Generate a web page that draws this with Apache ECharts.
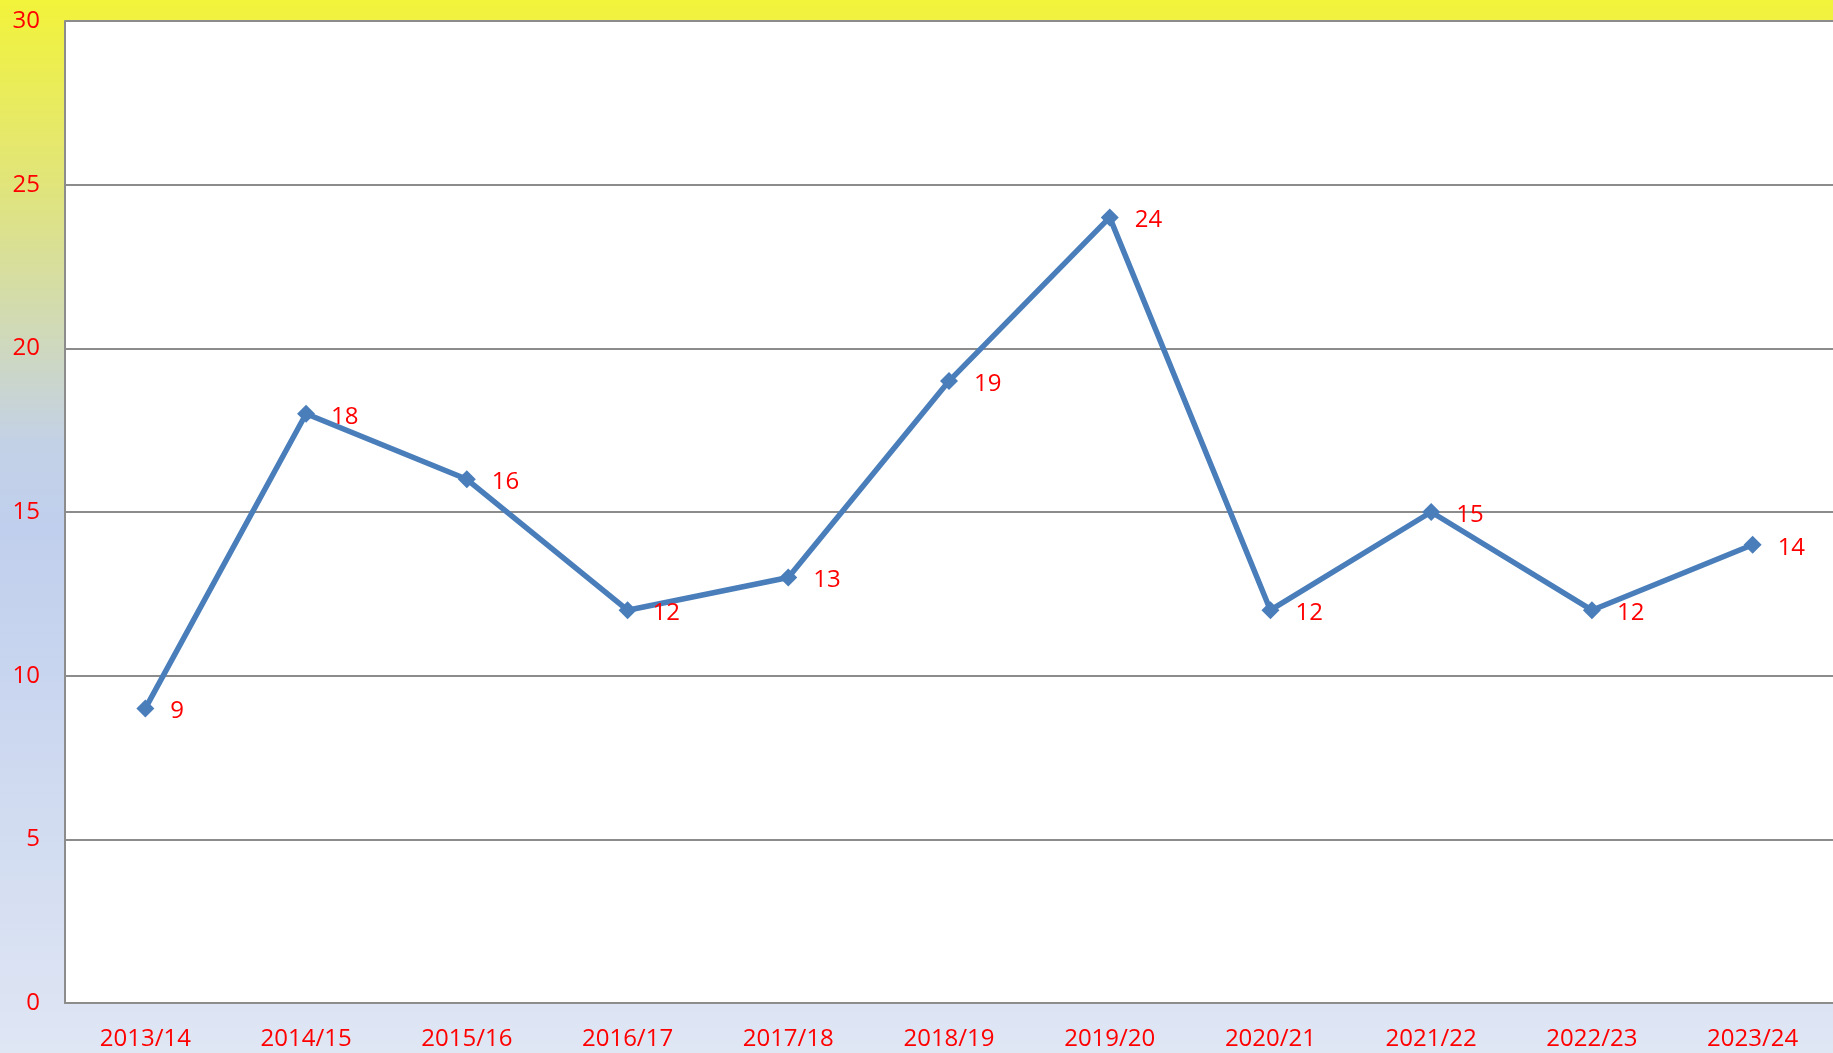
<!DOCTYPE html>
<html>
<head>
<meta charset="utf-8">
<script src="https://cdn.jsdelivr.net/npm/echarts@6/dist/echarts.min.js"></script>
<style>
html,body{margin:0;padding:0;}
#graphic{width:1833px;height:1053px;}
</style>
</head>
<body>
<div id="graphic"></div>
<script>
//类目 / 数值
var seasons = ['2013/14','2014/15','2015/16','2016/17','2017/18','2018/19','2019/20','2020/21','2021/22','2022/23','2023/24'];
var counts = [9, 18, 16, 12, 13, 19, 24, 12, 15, 12, 14];
var yTicks = [0, 5, 10, 15, 20, 25, 30];

var fontName = '"Open Sans", "Liberation Sans", sans-serif';
var gridColor = '#8c8c8c';

function getOption(){
    var option = {
        animation: false,
        backgroundColor: new echarts.graphic.LinearGradient(0, 0, 0, 1, [
            {offset: 0, color: '#f2f33a'},
            {offset: 0.18, color: '#e0e47c'},
            {offset: 0.42, color: '#c3d1e6'},
            {offset: 0.5, color: '#c0cfed'},
            {offset: 1, color: '#dfe6f4'}
        ]),
        grid: {
            left: 65, top: 21, right: 0, bottom: 50,
            show: true, backgroundColor: '#ffffff', borderWidth: 0
        },
        xAxis: [{
            type: 'category',
            boundaryGap: true,
            data: seasons,
            axisLine: {show: true, lineStyle: {color: gridColor, width: 2}},
            axisTick: {show: false},
            axisLabel: {color: '#ff0000', fontSize: 24, fontFamily: fontName, margin: 24}
        }],
        yAxis: [{
            type: 'value',
            min: yTicks[0],
            max: yTicks[yTicks.length - 1],
            interval: yTicks[1] - yTicks[0],
            axisLine: {show: true, lineStyle: {color: gridColor, width: 2}},
            axisTick: {show: false},
            splitLine: {show: true, lineStyle: {color: gridColor, width: 2}},
            axisLabel: {color: '#ff0000', fontSize: 24, fontFamily: fontName, margin: 25}
        }],
        series: [{
            name: '总数',
            type: 'line',
            data: counts,
            symbol: 'diamond',
            symbolSize: 18,
            lineStyle: {color: '#4a7ebb', width: 5.5},
            itemStyle: {color: '#4a7ebb'},
            label: {
                show: true,
                position: 'right',
                distance: 16,
                offset: [0, 3],
                color: '#ff0000',
                fontSize: 24,
                fontFamily: fontName
            }
        }]
    };
    return option;
}

var graphic = echarts.init(document.getElementById('graphic'));
graphic.setOption(getOption());
</script>
</body>
</html>
